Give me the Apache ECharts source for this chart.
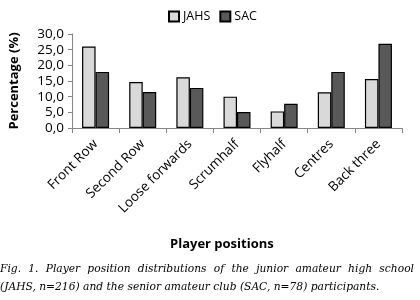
<!DOCTYPE html>
<html>
<head>
<meta charset="utf-8">
<script src="https://cdn.jsdelivr.net/npm/echarts@6/dist/echarts.min.js"></script>
<style>
  html, body { margin: 0; padding: 0; background: #fff; }
  #chart { width: 420px; height: 300px; }
</style>
</head>
<body>
<div id="chart"></div>
<script>
// player positions
const positions = ['Front Row', 'Second Row', 'Loose forwards', 'Scrumhalf', 'Flyhalf', 'Centres', 'Back three'];
// percentages per group
const jahsValues = [26.0, 14.7, 16.2, 10.0, 5.3, 11.4, 15.6];
const sacValues = [17.9, 11.5, 12.8, 5.1, 7.7, 17.9, 26.9];
const seriesNames = ['JAHS', 'SAC'];

const captionLines = [
    'Fig. 1. Player position distributions of the junior amateur high school',
    '(JAHS, n=216) and the senior amateur club (SAC, n=78) participants.'
];

const chart = echarts.init(document.getElementById('chart'));
const font = 'Open Sans';
const axisGray = '#868686';
const captionFont = 'italic 10.7px "DejaVu Serif"';

// first caption line is justified to full width, like in the printed figure
function justifiedLine(text, top, width) {
    const ctx = document.createElement('canvas').getContext('2d');
    ctx.font = captionFont;
    const words = text.split(' ');
    const widths = words.map(w => ctx.measureText(w).width);
    const gap = (width - widths.reduce((a, b) => a + b, 0)) / (words.length - 1);
    let x = 0;
    return words.map((w, i) => {
        const el = {
            type: 'text',
            x: x,
            y: top,
            style: { text: w, font: captionFont, fill: '#000' }
        };
        x += widths[i] + gap;
        return el;
    });
}

const option = {
    animation: false,
    backgroundColor: '#fff',
    legend: {
        top: 5,
        left: 163,
        itemWidth: 10,
        itemHeight: 10,
        itemGap: 9,
        icon: 'rect',
        textStyle: { fontFamily: font, fontSize: 12.5, color: '#000', padding: [0, 0, 0, -1] },
        data: seriesNames
    },
    grid: {
        left: 72,
        right: 18,
        top: 34,
        bottom: 172
    },
    xAxis: {
        type: 'category',
        data: positions,
        axisLine: { lineStyle: { color: axisGray, width: 1 } },
        axisTick: { show: true, length: 5, lineStyle: { color: axisGray } },
        axisLabel: {
            interval: 0,
            rotate: 45,
            margin: 14,
            fontFamily: font,
            fontSize: 13.5,
            color: '#000'
        }
    },
    yAxis: {
        type: 'value',
        min: 0,
        max: 30,
        interval: 5,
        name: 'Percentage (%)',
        nameLocation: 'middle',
        nameGap: 51,
        nameTextStyle: { fontFamily: font, fontSize: 13, fontWeight: 'bold', color: '#000' },
        axisLine: { show: true, lineStyle: { color: axisGray, width: 1 } },
        axisTick: { show: true, length: 4, lineStyle: { color: axisGray } },
        splitLine: { show: false },
        axisLabel: {
            margin: 8,
            fontFamily: font,
            fontSize: 13.5,
            color: '#000',
            formatter: v => v.toFixed(1).replace('.', ',')
        }
    },
    series: [
        {
            name: seriesNames[0],
            type: 'bar',
            data: jahsValues,
            barWidth: 13.5,
            barGap: '0%',
            itemStyle: { color: '#d9d9d9', borderColor: '#000', borderWidth: 1.2 }
        },
        {
            name: seriesNames[1],
            type: 'bar',
            data: sacValues,
            barWidth: 13.5,
            barGap: '0%',
            itemStyle: { color: '#595959', borderColor: '#000', borderWidth: 1.2 }
        }
    ],
    graphic: [
        {
            type: 'text',
            left: 170,
            top: 238,
            style: { text: 'Player positions', fontFamily: font, fontSize: 13, fontWeight: 'bold', fill: '#000' }
        },
        ...justifiedLine(captionLines[0], 264, 414),
        {
            type: 'text',
            x: 0,
            y: 282,
            style: { text: captionLines[1], font: captionFont, fill: '#000' }
        }
    ]
};

chart.setOption(option);
</script>
</body>
</html>
